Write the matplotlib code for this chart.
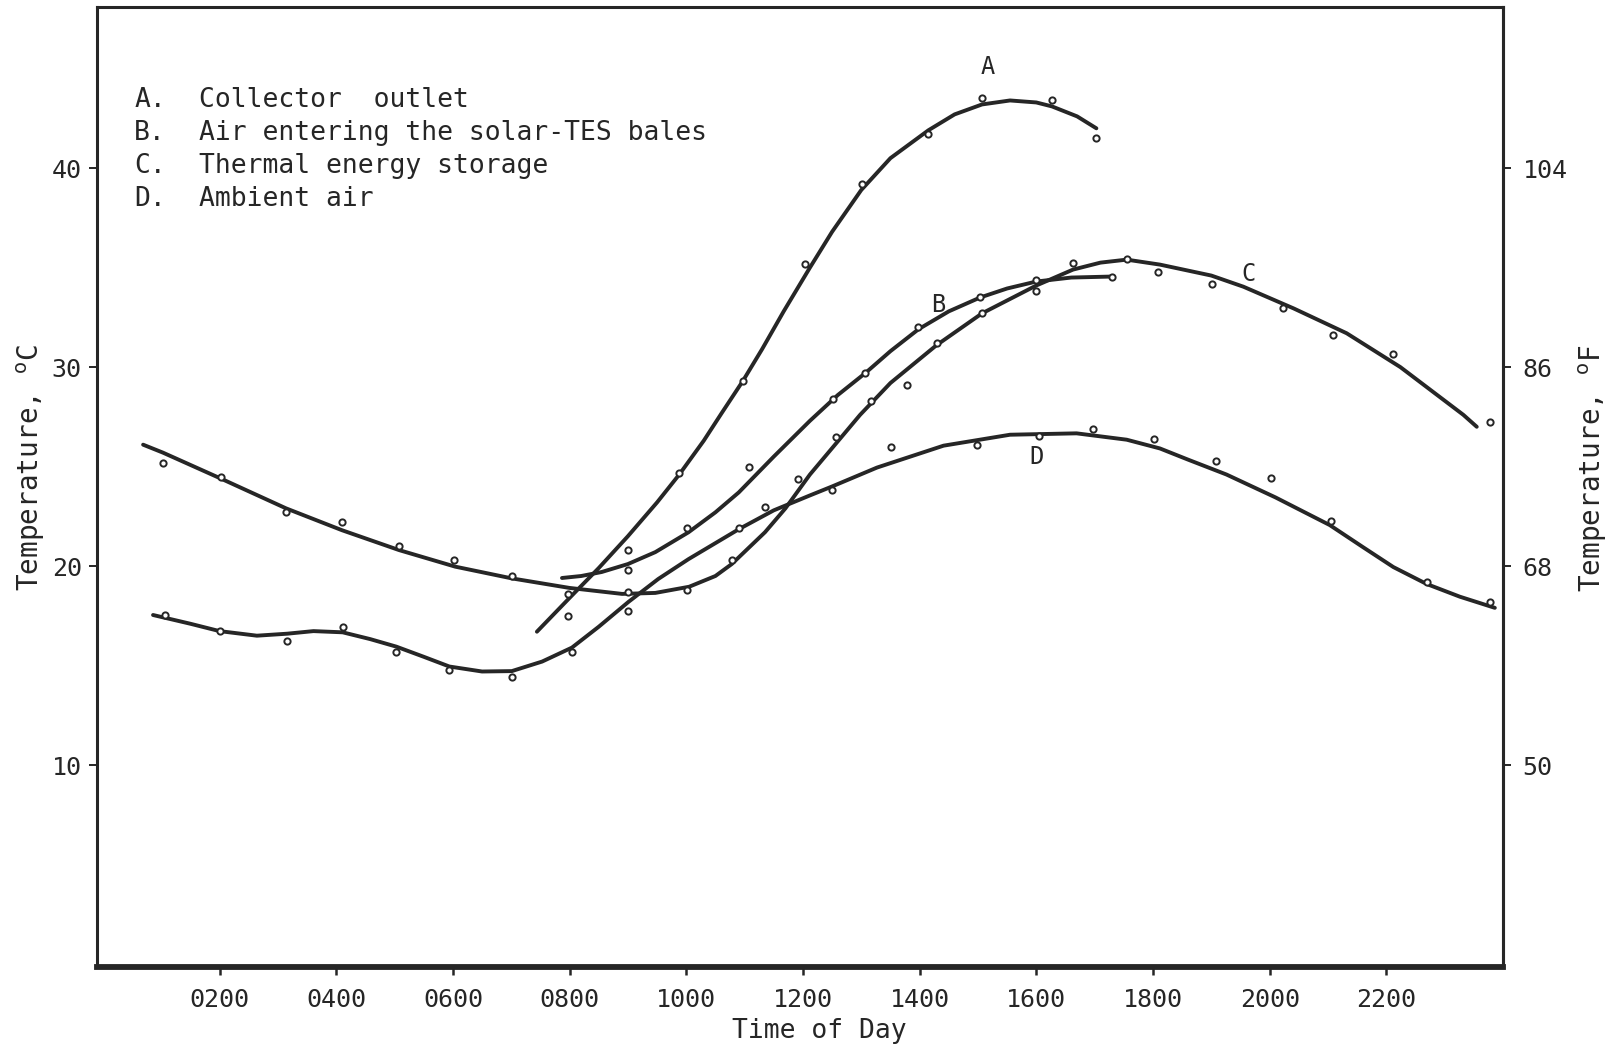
import matplotlib
matplotlib.use('Agg')
import matplotlib.pyplot as plt

# time of day in hours, temperature in deg C

# A. collector outlet
a_line_x = [7.44, 8.0, 8.5, 9.0, 9.5, 9.88, 10.3, 10.61, 10.97, 11.3, 11.67, 12.12,
            12.5, 13.0, 13.5, 14.15, 14.6, 15.07, 15.55, 16.0, 16.27, 16.7, 17.03]
a_line_y = [16.7, 18.4, 19.9, 21.5, 23.2, 24.6, 26.3, 27.7, 29.3, 30.9, 32.8, 35.0,
            36.8, 38.9, 40.5, 41.9, 42.7, 43.2, 43.4, 43.3, 43.1, 42.6, 42.0]
a_pts_x = [7.97, 9.0, 9.88, 10.97, 12.03, 13.01, 14.15, 15.07, 16.27, 17.03]
a_pts_y = [17.5, 20.8, 24.7, 29.3, 35.2, 39.2, 41.7, 43.5, 43.4, 41.5]

# B. air entering the solar-TES bales
b_line_x = [7.87, 8.2, 8.55, 9.0, 9.47, 10.04, 10.5, 10.9, 11.5, 12.12, 12.6, 13.07,
            13.5, 13.98, 14.5, 15.04, 15.5, 16.0, 16.6, 17.29]
b_line_y = [19.4, 19.5, 19.7, 20.1, 20.7, 21.7, 22.7, 23.7, 25.5, 27.3, 28.6, 29.7,
            30.8, 31.9, 32.8, 33.5, 33.95, 34.3, 34.5, 34.55]
b_pts_x = [9.01, 10.01, 11.07, 12.52, 13.07, 13.98, 15.04, 16.0, 17.29]
b_pts_y = [19.8, 21.9, 25.0, 28.4, 29.7, 32.0, 33.5, 34.4, 34.55]

# C. thermal energy storage
c_line_x = [0.69, 1.03, 2.02, 3.14, 4.1, 5.08, 6.04, 7.01, 8.0, 8.9, 9.47, 10.05,
            10.5, 10.78, 11.35, 11.7, 12.12, 12.98, 13.5, 14.29, 15.07, 16.0, 16.63,
            17.1, 17.55, 18.12, 19.0, 19.55, 20.41, 21.32, 22.24, 23.32, 23.55]
c_line_y = [26.1, 25.7, 24.4, 22.9, 21.8, 20.8, 19.97, 19.38, 18.9, 18.6, 18.65, 18.96,
            19.5, 20.1, 21.7, 22.9, 24.6, 27.6, 29.2, 31.1, 32.7, 34.1, 34.9,
            35.25, 35.4, 35.15, 34.6, 34.04, 32.95, 31.7, 30.0, 27.6, 27.0]
c_pts_x = [1.03, 2.02, 3.14, 4.1, 5.08, 6.02, 7.02, 7.97, 9.01, 10.01, 10.78, 11.92,
           12.57, 13.16, 13.78, 14.29, 15.07, 16.0, 16.63, 17.55, 18.09, 19.01, 20.23,
           21.09, 22.12, 23.77]
c_pts_y = [25.2, 24.5, 22.7, 22.2, 21.0, 20.3, 19.5, 18.6, 18.7, 18.8, 20.3, 24.4,
           26.5, 28.3, 29.1, 31.2, 32.7, 33.8, 35.25, 35.45, 34.8, 34.2, 32.95,
           31.6, 30.65, 27.25]

# D. ambient air
d_line_x = [0.86, 1.5, 2.0, 2.64, 3.16, 3.61, 4.11, 4.58, 5.03, 5.5, 5.94, 6.5, 7.01,
            7.53, 8.04, 8.5, 9.01, 9.52, 10.04, 10.9, 11.5, 12.12, 12.5, 13.27, 14.41,
            15.55, 16.69, 17.55, 18.12, 18.6, 19.26, 20.1, 21.03, 21.6, 22.12, 22.69,
            23.26, 23.86]
d_line_y = [17.54, 17.1, 16.73, 16.5, 16.6, 16.73, 16.67, 16.33, 15.95, 15.44, 14.95,
            14.7, 14.72, 15.2, 15.9, 16.95, 18.2, 19.35, 20.35, 21.85, 22.8, 23.55,
            24.0, 24.95, 26.05, 26.6, 26.67, 26.35, 25.91, 25.35, 24.6, 23.45, 22.06,
            20.95, 19.95, 19.1, 18.46, 17.9]
d_pts_x = [1.06, 2.0, 3.16, 4.11, 5.03, 5.94, 7.02, 8.04, 9.0, 10.9, 11.35, 12.5,
           13.51, 14.98, 16.05, 16.98, 18.02, 19.08, 20.02, 21.05, 22.7, 23.77]
d_pts_y = [17.54, 16.73, 16.25, 16.93, 15.7, 14.77, 14.44, 15.7, 17.74, 21.9, 22.98,
           23.8, 25.96, 26.1, 26.55, 26.9, 26.38, 25.29, 24.44, 22.26, 19.18, 18.18]

legend_keys = ['A.', 'B.', 'C.', 'D.']
legend_names = ['Collector  outlet', 'Air entering the solar-TES bales',
                'Thermal energy storage', 'Ambient air']

x_ticks = [2, 4, 6, 8, 10, 12, 14, 16, 18, 20, 22]
x_labels = ['0200', '0400', '0600', '0800', '1000', '1200', '1400', '1600', '1800', '2000', '2200']
c_ticks = [10, 20, 30, 40]
f_ticks = [50, 68, 86, 104]

ink = '#262626'
mono = 'DejaVu Sans Mono'

fig = plt.figure(figsize=(16.17, 10.53), dpi=100)
ax = fig.add_axes([0.060, 0.0817, 0.8695, 0.9117])

series = [(a_line_x, a_line_y, a_pts_x, a_pts_y),
          (b_line_x, b_line_y, b_pts_x, b_pts_y),
          (c_line_x, c_line_y, c_pts_x, c_pts_y),
          (d_line_x, d_line_y, d_pts_x, d_pts_y)]
for lx, ly, px, py in series:
    ax.plot(lx, ly, color=ink, lw=2.8, solid_capstyle='round', solid_joinstyle='round')
    ax.plot(px, py, 'o', ms=4.5, mfc='white', mec=ink, mew=1.4)

# curve letters
ax.text(15.16, 45.1, 'A', fontsize=17, family=mono, color=ink, ha='center', va='center')
ax.text(14.32, 33.1, 'B', fontsize=17, family=mono, color=ink, ha='center', va='center')
ax.text(19.63, 34.7, 'C', fontsize=17, family=mono, color=ink, ha='center', va='center')
ax.text(16.0, 25.5, 'D', fontsize=17, family=mono, color=ink, ha='center', va='center')

# key in the upper left
for i in range(len(legend_keys)):
    yy = 43.42 - i * 1.66
    ax.text(0.54, yy, legend_keys[i], fontsize=19, family=mono, color=ink, va='center')
    ax.text(1.65, yy, legend_names[i], fontsize=19, family=mono, color=ink, va='center')

ax.set_xlim(-0.1, 24.0)
ax.set_ylim(-0.15, 48.1)
ax.set_xticks(x_ticks)
ax.set_xticklabels(x_labels)
ax.set_yticks(c_ticks)
ax.tick_params(axis='x', direction='out', length=6, width=1.8, pad=9, colors=ink, labelsize=18)
ax.tick_params(axis='y', direction='out', length=6, width=1.4, pad=5, colors=ink, labelsize=18)
for lab in ax.get_xticklabels() + ax.get_yticklabels():
    lab.set_family(mono)

for side in ['left', 'right', 'top']:
    ax.spines[side].set_linewidth(2.2)
    ax.spines[side].set_color(ink)
ax.spines['bottom'].set_linewidth(4.2)
ax.spines['bottom'].set_color(ink)

ax.set_xlabel('Time of Day', fontsize=19, family=mono, color=ink, va='center')
ax.xaxis.set_label_coords(0.514, -0.067)
ax.set_ylabel(r'Temperature, $^{\mathrm{o}}$C', fontsize=20, family=mono, color=ink,
              va='center')
ax.yaxis.set_label_coords(-0.047, 0.52)

sec = ax.secondary_yaxis('right', functions=(lambda c: c * 1.8 + 32, lambda f: (f - 32) / 1.8))
sec.set_yticks(f_ticks)
sec.tick_params(direction='out', length=6, width=1.4, pad=8, colors=ink, labelsize=18)
for lab in sec.get_yticklabels():
    lab.set_family(mono)
sec.spines['right'].set_linewidth(2.2)
sec.spines['right'].set_color(ink)

fig.text(1593 / 1617, 1 - 468 / 1053, r'Temperature, $^{\mathrm{o}}$F', fontsize=20,
         family=mono, color=ink, rotation=90, ha='center', va='center')

fig.savefig('out.png', dpi=100, facecolor='white')
